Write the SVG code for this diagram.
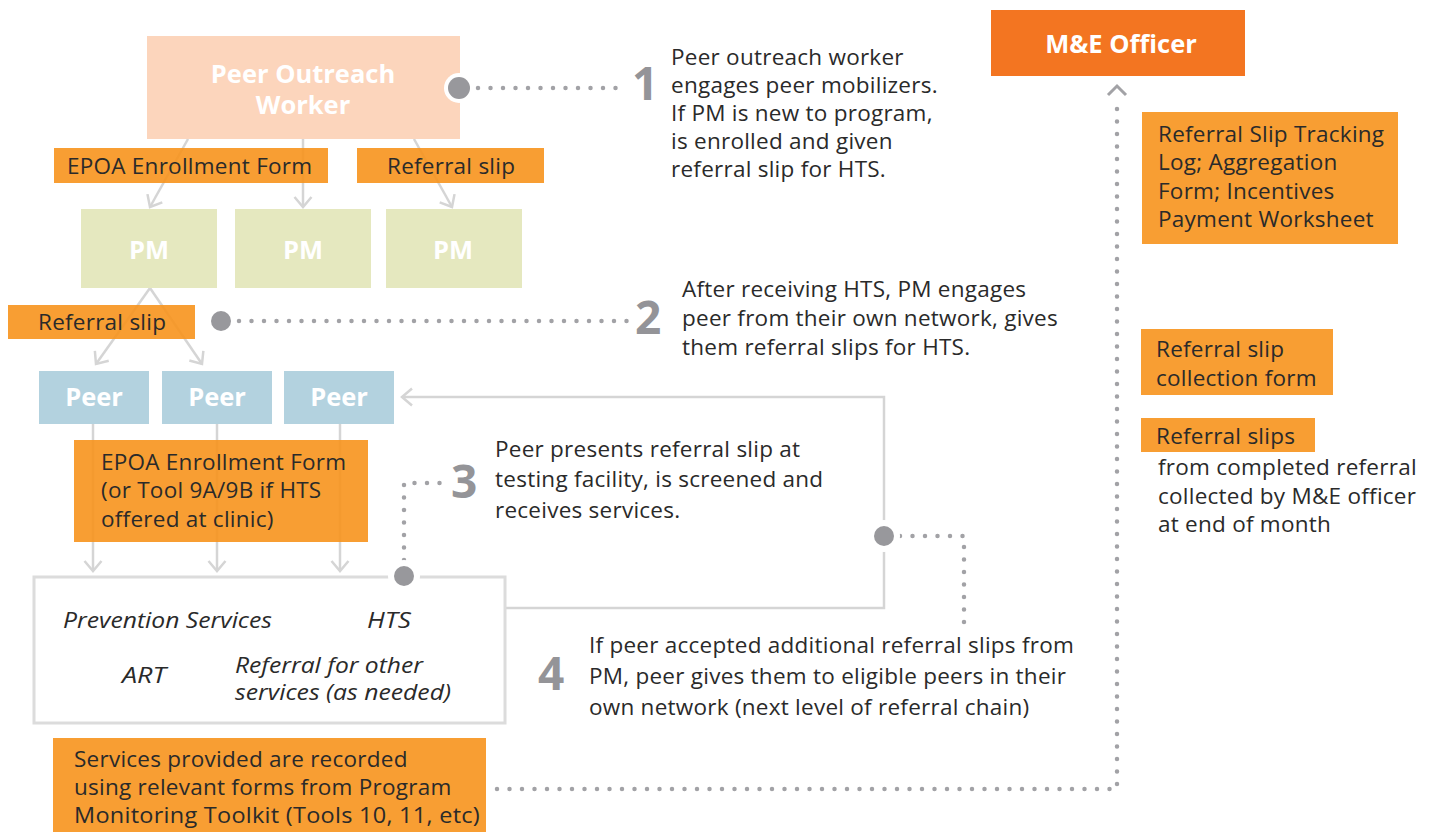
<svg xmlns="http://www.w3.org/2000/svg" width="1437" height="832" viewBox="0 0 1437 832">
<defs>
<style>
text{font-family:"Open Sans","Noto Sans","DejaVu Sans",sans-serif;}
.t{font-size:22.5px;letter-spacing:0.25px;fill:#2a2a2a;}
.it{font-size:22px;fill:#2a2a2a;font-style:italic;}
.b{font-size:25.5px;font-weight:bold;fill:#ffffff;text-anchor:middle;}
.num{font-size:46px;font-weight:bold;fill:#949498;}
.lab{fill:#f7941d;fill-opacity:0.9;}
.ln{fill:none;stroke:#d5d5d5;stroke-width:2.5;}
.dot{fill:none;stroke:#a2a2a6;stroke-width:4.5;stroke-linecap:round;stroke-dasharray:0 12.5;}
.c{fill:#98989c;}
.ring{fill:#ffffff;}
</style>
<marker id="chev" markerUnits="userSpaceOnUse" markerWidth="22" markerHeight="22" refX="13" refY="11" orient="auto">
<path d="M3,2.5 L13,11 L3,19.5" fill="none" stroke="#d5d5d5" stroke-width="2.5"/>
</marker>
</defs>
<rect x="0" y="0" width="1437" height="832" fill="#ffffff"/>

<g id="connectors">
<line class="ln" x1="188" y1="139" x2="150" y2="207" marker-end="url(#chev)"/>
<line class="ln" x1="303" y1="139" x2="303" y2="207" marker-end="url(#chev)"/>
<line class="ln" x1="414" y1="139" x2="452" y2="207" marker-end="url(#chev)"/>
<line class="ln" x1="150" y1="288" x2="96" y2="364" marker-end="url(#chev)"/>
<line class="ln" x1="150" y1="288" x2="202" y2="364" marker-end="url(#chev)"/>
<line class="ln" x1="93" y1="424" x2="93" y2="571" marker-end="url(#chev)"/>
<line class="ln" x1="217" y1="424" x2="217" y2="571" marker-end="url(#chev)"/>
<line class="ln" x1="340" y1="424" x2="340" y2="571" marker-end="url(#chev)"/>
<polyline class="ln" points="505,608 884,608 884,397 402,397" marker-end="url(#chev)"/>
<path class="dot" d="M478,88 H628"/>
<path class="dot" d="M239,321 H628"/>
<path class="dot" d="M404,560 V483 H443"/>
<path class="dot" d="M900,536 H964 V627"/>
<path class="dot" d="M497,789 H1117 V106"/>
<path d="M1108,95 L1117,86 L1126,95" fill="none" stroke="#a2a2a6" stroke-width="3"/>
</g>

<g id="peer-outreach-worker">
<rect x="147" y="36" width="313" height="103" fill="#fcd5bc"/>
<text class="b" x="303" y="83">Peer Outreach</text>
<text class="b" x="303" y="114">Worker</text>
</g>

<g id="label-epoa-1">
<rect class="lab" x="54" y="148" width="274" height="35"/>
<text class="t" x="67" y="174">EPOA Enrollment Form</text>
</g>
<g id="label-referral-1">
<rect class="lab" x="357" y="148" width="187" height="35"/>
<text class="t" x="387" y="174">Referral slip</text>
</g>

<g id="pm-1"><rect x="81" y="209" width="136" height="79" fill="#e5e8bf"/><text class="b" x="149" y="259">PM</text></g>
<g id="pm-2"><rect x="235" y="209" width="136" height="79" fill="#e5e8bf"/><text class="b" x="303" y="259">PM</text></g>
<g id="pm-3"><rect x="386" y="209" width="136" height="79" fill="#e5e8bf"/><text class="b" x="453" y="259">PM</text></g>

<g id="label-referral-2">
<rect class="lab" x="8" y="305" width="187" height="34"/>
<text class="t" x="38" y="330">Referral slip</text>
</g>

<g id="peer-1"><rect x="39" y="371" width="110" height="53" fill="#b3d2df"/><text class="b" x="94" y="406">Peer</text></g>
<g id="peer-2"><rect x="162" y="371" width="110" height="53" fill="#b3d2df"/><text class="b" x="217" y="406">Peer</text></g>
<g id="peer-3"><rect x="284" y="371" width="110" height="53" fill="#b3d2df"/><text class="b" x="339" y="406">Peer</text></g>

<g id="label-epoa-2">
<rect class="lab" x="74" y="440" width="294" height="102"/>
<text class="t" x="101" y="470">EPOA Enrollment Form</text>
<text class="t" x="101" y="498">(or Tool 9A/9B if HTS</text>
<text class="t" x="101" y="527">offered at clinic)</text>
</g>

<g id="services">
<rect x="34" y="577" width="471" height="146" fill="#ffffff" stroke="#dcdcdc" stroke-width="3"/>
<text class="it" x="63" y="628" textLength="209" lengthAdjust="spacingAndGlyphs">Prevention Services</text>
<text class="it" x="367" y="628" textLength="44" lengthAdjust="spacingAndGlyphs">HTS</text>
<text class="it" x="122" y="683" textLength="44" lengthAdjust="spacingAndGlyphs">ART</text>
<text class="it" x="235" y="673" textLength="188" lengthAdjust="spacingAndGlyphs">Referral for other</text>
<text class="it" x="235" y="700" textLength="216" lengthAdjust="spacingAndGlyphs">services (as needed)</text>
</g>

<g id="label-services-recorded">
<rect class="lab" x="53" y="738" width="433" height="94"/>
<text class="t" x="74" y="767">Services provided are recorded</text>
<text class="t" x="74" y="795">using relevant forms from Program</text>
<text class="t" x="74" y="823" textLength="406" lengthAdjust="spacingAndGlyphs">Monitoring Toolkit (Tools 10, 11, etc)</text>
</g>

<g id="step-markers">
<circle class="ring" cx="459" cy="88" r="15"/><circle class="c" cx="459" cy="88" r="11"/>
<circle class="ring" cx="221" cy="321" r="14"/><circle class="c" cx="221" cy="321" r="10"/>
<circle class="ring" cx="404" cy="576" r="16"/><circle class="c" cx="404" cy="576" r="10"/>
<circle class="ring" cx="884" cy="536" r="16"/><circle class="c" cx="884" cy="536" r="10"/>
</g>

<g id="step-1">
<text class="num" x="632" y="100">1</text>
<text class="t" x="671" y="65">Peer outreach worker</text>
<text class="t" x="671" y="93">engages peer mobilizers.</text>
<text class="t" x="671" y="121">If PM is new to program,</text>
<text class="t" x="671" y="149">is enrolled and given</text>
<text class="t" x="671" y="177">referral slip for HTS.</text>
</g>

<g id="step-2">
<text class="num" x="635" y="334">2</text>
<text class="t" x="682" y="297">After receiving HTS, PM engages</text>
<text class="t" x="682" y="326">peer from their own network, gives</text>
<text class="t" x="682" y="355">them referral slips for HTS.</text>
</g>

<g id="step-3">
<text class="num" x="451" y="498">3</text>
<text class="t" x="495" y="457">Peer presents referral slip at</text>
<text class="t" x="495" y="487">testing facility, is screened and</text>
<text class="t" x="495" y="518">receives services.</text>
</g>

<g id="step-4">
<text class="num" x="538" y="690">4</text>
<text class="t" x="589" y="653">If peer accepted additional referral slips from</text>
<text class="t" x="589" y="684">PM, peer gives them to eligible peers in their</text>
<text class="t" x="589" y="715">own network (next level of referral chain)</text>
</g>

<g id="me-officer">
<rect x="991" y="10" width="254" height="66" fill="#f37521"/>
<text class="b" x="1121" y="53">M&amp;E Officer</text>
</g>

<g id="label-tracking">
<rect class="lab" x="1142" y="112" width="256" height="132"/>
<text class="t" x="1158" y="142">Referral Slip Tracking</text>
<text class="t" x="1158" y="170">Log; Aggregation</text>
<text class="t" x="1158" y="199">Form; Incentives</text>
<text class="t" x="1158" y="227">Payment Worksheet</text>
</g>

<g id="label-collection">
<rect class="lab" x="1141" y="329" width="192" height="66"/>
<text class="t" x="1156" y="357">Referral slip</text>
<text class="t" x="1156" y="386">collection form</text>
</g>

<g id="label-slips">
<rect class="lab" x="1141" y="418" width="174" height="34"/>
<text class="t" x="1156" y="444">Referral slips</text>
<text class="t" x="1158" y="475">from completed referral</text>
<text class="t" x="1158" y="504">collected by M&amp;E officer</text>
<text class="t" x="1158" y="532">at end of month</text>
</g>
</svg>
